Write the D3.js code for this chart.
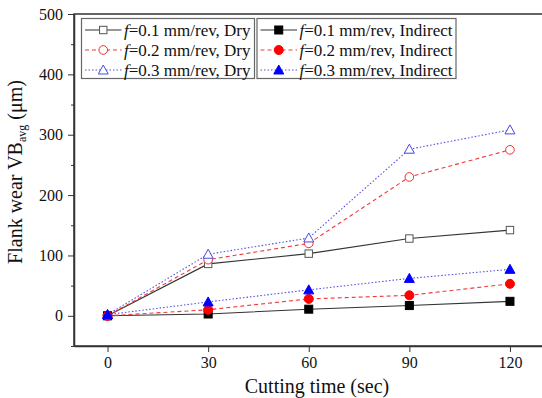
<!DOCTYPE html>
<html><head><meta charset="utf-8">
<script src="https://cdn.jsdelivr.net/npm/d3@7"></script>
<style>body{margin:0;background:#fff}</style>
</head><body>
<svg id="c" width="542" height="398"></svg>
<script>
const times = [0, 30, 60, 90, 120];
const dry01 = [0, 86, 103, 128, 142];
const dry02 = [0, 93, 120, 230, 275];
const dry03 = [2, 102, 129, 276, 308];
const ind01 = [0, 3, 11, 17, 24];
const ind02 = [0, 10, 28, 34, 53];
const ind03 = [2, 23, 43, 62, 77];
const xTicks = [0, 30, 60, 90, 120];
const yTicks = [0, 100, 200, 300, 400, 500];
const yMinor = [-50, 50, 150, 250, 350, 450];
const seriesNames = ["0.1 mm/rev, Dry","0.2 mm/rev, Dry","0.3 mm/rev, Dry","0.1 mm/rev, Indirect","0.2 mm/rev, Indirect","0.3 mm/rev, Indirect"];

const FONT = "'Liberation Serif', Tinos, 'Times New Roman', Times, 'DejaVu Serif', serif";
const svg = d3.select("#c").style("font-family", FONT);
const L = 74, R = 543.5, T = 14, B = 346;
const x = d3.scaleLinear().domain([-10, 130]).range([L, R]);
const y = d3.scaleLinear().domain([-50, 500]).range([B, T]);

const series = [
  {name: seriesNames[0], v: dry01, color: "#333", dash: null, shape: "square", fill: false},
  {name: seriesNames[1], v: dry02, color: "#f03030", dash: "4,3", shape: "circle", fill: false},
  {name: seriesNames[2], v: dry03, color: "#4848e8", dash: "1.5,2", shape: "triangle", fill: false},
  {name: seriesNames[3], v: ind01, color: "#000", dash: null, shape: "square", fill: true},
  {name: seriesNames[4], v: ind02, color: "#ff0000", dash: "4,3", shape: "circle", fill: true},
  {name: seriesNames[5], v: ind03, color: "#0000ff", dash: "1.5,2", shape: "triangle", fill: true}
];
const lineCol = s => s.shape === "square" ? "#333" : (s.shape === "circle" ? "#f03a3a" : "#5050e8");

svg.append("rect").attr("x", L).attr("y", T).attr("width", R - L).attr("height", B - T)
  .attr("fill", "none").attr("stroke", "#333").attr("stroke-width", 1.5);

const xAxis = d3.axisBottom(x).tickValues(xTicks).tickSize(6).tickPadding(5).tickSizeOuter(0);
const gx = svg.append("g").attr("transform", `translate(0,${B})`).call(xAxis);
gx.attr("font-family", null).style("font-family", FONT);
gx.select(".domain").attr("stroke", "#333").attr("stroke-width", 1.5);
gx.selectAll(".tick line").attr("stroke", "#333");
gx.selectAll("text").attr("font-size", 16).attr("fill", "#111").style("font-family", FONT);

const yAxis = d3.axisLeft(y).tickValues(yTicks).tickSize(6).tickPadding(5).tickSizeOuter(0);
const gy = svg.append("g").attr("transform", `translate(${L},0)`).call(yAxis);
gy.attr("font-family", null).style("font-family", FONT);
gy.select(".domain").attr("stroke", "#333").attr("stroke-width", 1.5);
gy.selectAll(".tick line").attr("stroke", "#333");
gy.selectAll("text").attr("font-size", 16).attr("fill", "#111").style("font-family", FONT);
const gym = svg.append("g").attr("transform", `translate(${L},0)`)
  .call(d3.axisLeft(y).tickValues(yMinor).tickSize(3).tickFormat(""));
gym.select(".domain").remove();
gym.selectAll(".tick line").attr("stroke", "#333");

svg.append("text").attr("x", 317).attr("y", 393).attr("text-anchor", "middle")
  .attr("font-size", 20).attr("fill", "#111").style("font-family", FONT).text("Cutting time (sec)");
const yl = svg.append("text").attr("transform", "translate(22,172) rotate(-90)")
  .attr("text-anchor", "middle").attr("font-size", 20).attr("fill", "#111").style("font-family", FONT);
yl.append("tspan").text("Flank wear VB");
yl.append("tspan").attr("font-size", 12).attr("dy", 4).text("avg");
yl.append("tspan").attr("dy", -4).text(" (\u03bcm)");

function marker(g, s, cx, cy) {
  const fill = s.fill ? s.color : "#fff";
  if (s.shape === "square") {
    const h = s.fill ? 4 : 3.7;
    g.append("rect").attr("x", cx - h).attr("y", cy - h).attr("width", 2 * h).attr("height", 2 * h)
      .attr("fill", fill).attr("stroke", s.fill ? "#000" : "#555").attr("stroke-width", 1);
  } else if (s.shape === "circle") {
    g.append("circle").attr("cx", cx).attr("cy", cy).attr("r", s.fill ? 4.5 : 4.3)
      .attr("fill", fill).attr("stroke", s.color).attr("stroke-width", 1);
  } else {
    const h = 5;
    g.append("path").attr("d", `M${cx},${cy - h}L${cx + h},${cy + 4}L${cx - h},${cy + 4}Z`)
      .attr("fill", fill).attr("stroke", s.color).attr("stroke-width", 1);
  }
}

const line = d3.line().x((d, i) => x(times[i])).y(d => y(d));
const plot = svg.append("g");
series.forEach(s => {
  plot.append("path").datum(s.v).attr("d", line).attr("fill", "none")
    .attr("stroke", lineCol(s)).attr("stroke-width", 1.1)
    .attr("stroke-dasharray", s.dash);
});
series.forEach(s => {
  const g = plot.append("g");
  s.v.forEach((v, i) => marker(g, s, x(times[i]), y(v)));
});

const boxes = [{x0: 81.5, x1: 254.5, idx: [0, 1, 2]}, {x0: 257, x1: 456, idx: [3, 4, 5]}];
boxes.forEach(b => {
  const g = svg.append("g");
  g.append("rect").attr("x", b.x0).attr("y", 18.5).attr("width", b.x1 - b.x0).attr("height", 60)
    .attr("fill", "#fff").attr("stroke", "#666").attr("stroke-width", 1.2);
  b.idx.forEach((k, r) => {
    const s = series[k];
    const cy = 30 + r * 20;
    const lx0 = b.x0 + 3.5, lx1 = b.x0 + 40;
    g.append("line").attr("x1", lx0).attr("x2", lx1).attr("y1", cy).attr("y2", cy)
      .attr("stroke", lineCol(s)).attr("stroke-width", 1.1).attr("stroke-dasharray", s.dash);
    marker(g, s, (lx0 + lx1) / 2, cy);
    const t = g.append("text").attr("x", b.x0 + 42.5).attr("y", cy + 6).attr("font-size", 17)
      .attr("fill", "#111").style("font-family", FONT);
    t.append("tspan").attr("font-style", "italic").text("f");
    t.append("tspan").text("=" + s.name);
  });
});
</script>
</body></html>
